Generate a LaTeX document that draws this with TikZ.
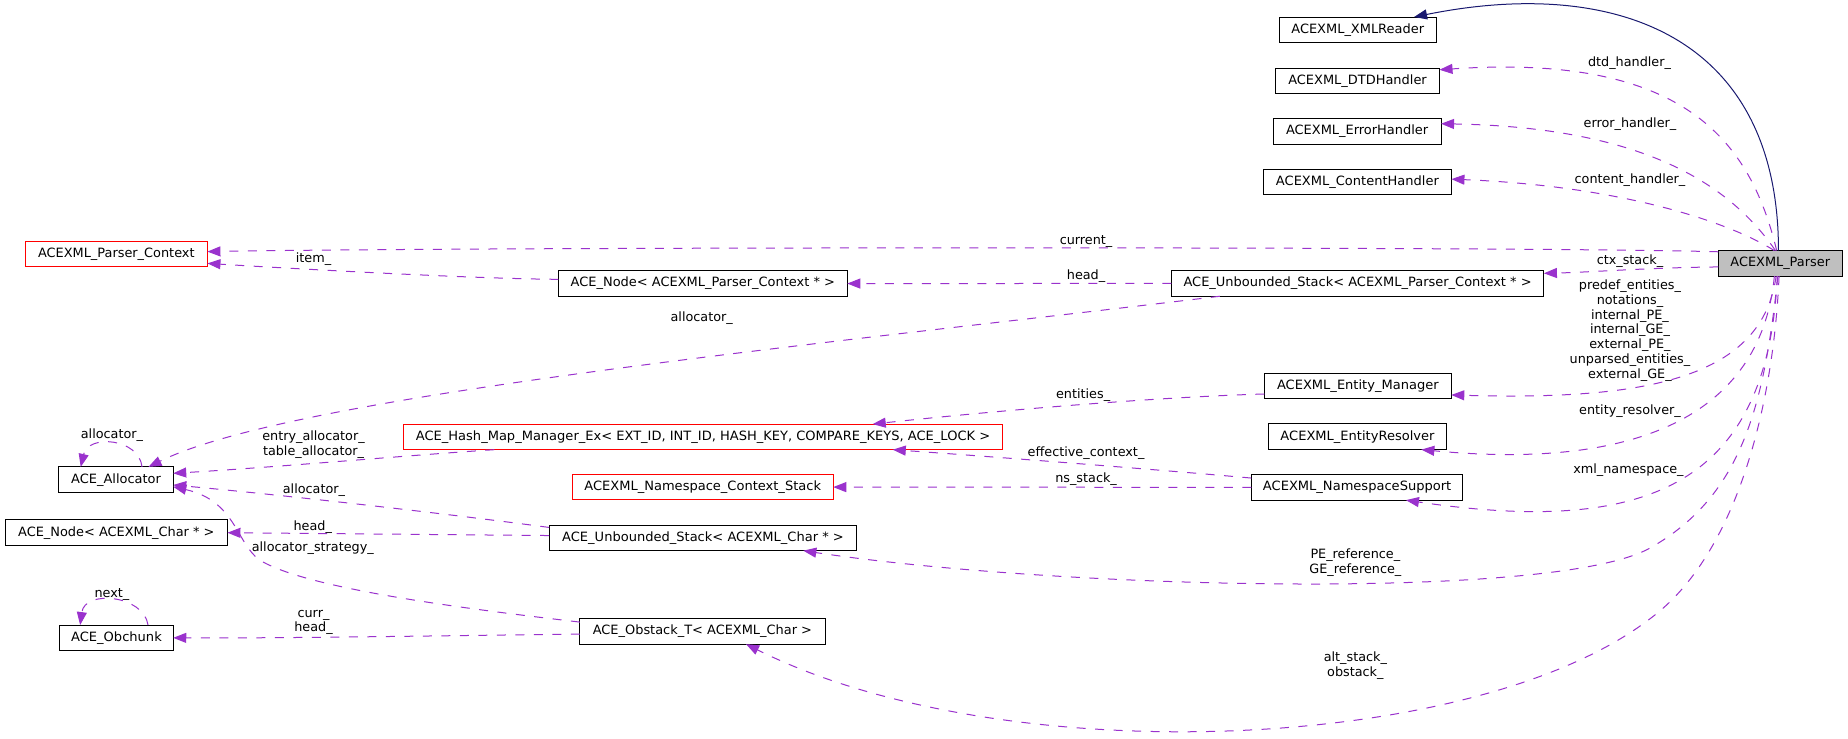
\documentclass[tikz,border=0pt]{standalone}
\usepackage{fontspec}
\setmainfont{DejaVu Sans}
\usetikzlibrary{arrows.meta,calc}
\definecolor{orch}{HTML}{9A32CD}
\definecolor{navyc}{HTML}{191970}
\definecolor{boxgray}{HTML}{BFBFBF}
\newdimen\pu \pu=1.1786pt
\newcommand\fnt{\fontsize{12.8pt}{14.7pt}\selectfont}
\newcommand\bx[7][]{\node[box,#1,minimum width={(#4-#3)*1.1786pt}] (#2) at ({(#3+#4)/2},#5) {\resizebox{#6\pu}{\height}{#7}};}
\begin{document}
\begin{tikzpicture}[x=1.1786pt,y=-1.1786pt,
  box/.style={draw=black,fill=white,line width=1pt,inner sep=0pt,outer sep=0pt,minimum height=25.6pt,font=\fnt},
  redbox/.style={draw=red},
  mainbox/.style={fill=boxgray},
  lbl/.style={font=\fnt,inner sep=0pt,align=center},
  edge/.style={draw=orch,line width=1pt,dash pattern=on 9pt off 9.5pt,-{Triangle[length=13pt,width=10pt,fill=orch]}},
  navyedge/.style={draw=navyc,line width=1pt,-{Triangle[length=13pt,width=10pt,fill=navyc]}}]
\fill[white] (0,0) rectangle (1568,626.2);
\useasboundingbox (0,0) rectangle (1568,626.2);
% nodes
\bx{xmlr}{1085.5}{1218.5}{25.3}{112.6}{ACEXML\_XMLReader}
\bx{dtd}{1082.3}{1221.4}{68.6}{117.5}{ACEXML\_DTDHandler}
\bx{err}{1080.3}{1222.7}{111.4}{120.7}{ACEXML\_ErrorHandler}
\bx{cont}{1072}{1231.5}{154.3}{138.2}{ACEXML\_ContentHandler}
\bx[mainbox]{parser}{1458}{1563}{223.5}{84.5}{ACEXML\_Parser}
\bx[redbox]{pctx}{21.5}{176}{215.5}{132.8}{ACEXML\_Parser\_Context}
\bx{nodepc}{473.8}{718.9}{240.6}{224.3}{ACE\_Node< ACEXML\_Parser\_Context * >}
\bx{ustackpc}{993.8}{1310}{240.5}{295.4}{ACE\_Unbounded\_Stack< ACEXML\_Parser\_Context * >}
\bx{em}{1072.8}{1231.4}{327.6}{137.1}{ACEXML\_Entity\_Manager}
\bx{er}{1076}{1227.6}{370.6}{130.7}{ACEXML\_EntityResolver}
\bx{nss}{1061.8}{1241.2}{413.5}{159.8}{ACEXML\_NamespaceSupport}
\bx[redbox]{hash}{342}{851}{370.7}{487.2}{ACE\_Hash\_Map\_Manager\_Ex< EXT\_ID, INT\_ID, HASH\_KEY, COMPARE\_KEYS, ACE\_LOCK >}
\bx[redbox]{ncs}{485.5}{707}{413.3}{200.8}{ACEXML\_Namespace\_Context\_Stack}
\bx{alloc}{50}{147}{407}{76.2}{ACE\_Allocator}
\bx{nodec}{4.4}{193}{452}{166.6}{ACE\_Node< ACEXML\_Char * >}
\bx{ustackc}{466}{727}{456.4}{239}{ACE\_Unbounded\_Stack< ACEXML\_Char * >}
\bx{obchunk}{50.6}{147}{541.2}{77}{ACE\_Obchunk}
\bx{obstack}{492}{700}{535.7}{186}{ACE\_Obstack\_T< ACEXML\_Char >}
% edges
\draw[navyedge] ($(parser.north)+(-1.5,0)$) .. controls (1509,30) and (1370,-20) .. ($(xmlr.north east)+(-18.7,0)$);
\draw[edge] ($(parser.north)+(-3,0)$) .. controls (1485,120) and (1430,45) .. ($(dtd.east)+(0,-9.4)$);
\draw[edge] ($(parser.north)+(-4,0)$) .. controls (1470,160) and (1400,108) .. ($(err.east)+(0,-6.4)$);
\draw[edge] ($(parser.north)+(-5,0)$) .. controls (1470,190) and (1380,158) .. ($(cont.east)+(0,-2.3)$);
\draw[edge] ($(parser.north west)+(0,1)$) .. controls (1300,209) and (400,209.5) .. ($(pctx.east)+(0,-2)$);
\draw[edge] ($(parser.west)+(0,3)$) .. controls (1400,227) and (1350,231) .. ($(ustackpc.east)+(0,-8.6)$);
\draw[edge] (ustackpc.west) -- (nodepc.east);
\draw[edge] ($(nodepc.west)+(0,-3.6)$) .. controls (400,236.5) and (250,228) .. ($(pctx.east)+(0,8)$);
\draw[edge] ($(ustackpc.south west)+(41.2,0)$) .. controls (700,292) and (250,335) .. ($(alloc.north)+(27.5,0)$);
\draw[edge] ($(alloc.north)+(22,0)$) .. controls (118,372) and (75,368) .. ($(alloc.north)+(-30,0)$);
\draw[edge] ($(hash.south west)+(77.4,0)$) .. controls (350,386) and (240,396) .. ($(alloc.east)+(0,-5.4)$);
\draw[edge] ($(ustackc.north west)+(0,2)$) .. controls (380,436) and (240,420) .. ($(alloc.east)+(0,4.5)$);
\draw[edge] ($(obstack.north west)+(0,3)$) .. controls (400,517) and (260,500) .. (220,475) .. controls (200,460) and (200,425) .. ($(alloc.east)+(0,6)$);
\draw[edge] ($(ustackc.west)+(0,-2)$) -- (nodec.east);
\draw[edge] ($(obchunk.north)+(26.8,0)$) .. controls (122,505) and (72,500) .. ($(obchunk.north)+(-30.8,0)$);
\draw[edge] ($(obstack.west)+(0,2.3)$) .. controls (400,539) and (250,541.6) .. (obchunk.east);
\draw[edge] ($(em.west)+(0,6.7)$) .. controls (980,337) and (850,348) .. ($(hash.north west)+(398.5,0)$);
\draw[edge] ($(nss.north west)+(0,3)$) .. controls (1000,400) and (850,388) .. ($(hash.south west)+(415.5,0)$);
\draw[edge] (nss.west) -- (ncs.east);
\draw[edge] ($(parser.south)+(-3.5,0)$) .. controls (1495,320) and (1400,340) .. ($(em.east)+(0,7.5)$);
\draw[edge] ($(parser.south)+(-5,0)$) .. controls (1495,345) and (1400,400) .. ($(er.south east)+(-21.6,0)$);
\draw[edge] ($(parser.south)+(-2.5,0)$) .. controls (1500,410) and (1400,455) .. ($(nss.south east)+(-48.3,0)$);
\draw[edge] ($(parser.south)+(-2,0)$) .. controls (1497,340) and (1480,420) .. (1400,465) .. controls (1320,510) and (900,500) .. ($(ustackc.south east)+(-45.4,0)$);
\draw[edge] ($(parser.south)+(-1,0)$) .. controls (1505,340) and (1475,470) .. (1400,525) .. controls (1250,640) and (850,655) .. ($(obstack.south east)+(-67,0)$);
% labels
\node[lbl] (ldtd) at (1382.6,53.7) {dtd\_handler\_};
\node[lbl] (lerr) at (1383,105) {error\_handler\_};
\node[lbl] (lcont) at (1383,152.7) {content\_handler\_};
\node[lbl] (lcur) at (921.5,205) {current\_};
\node[lbl] (lctx) at (1383,222) {ctx\_stack\_};
\node[lbl] (lpre) at (1383,280.5) {predef\_entities\_\\notations\_\\internal\_PE\_\\internal\_GE\_\\external\_PE\_\\unparsed\_entities\_\\external\_GE\_};
\node[lbl] (lheadpc) at (921.5,234) {head\_};
\node[lbl] (litem) at (266,220) {item\_};
\node[lbl] (lallocpc) at (595.4,269.6) {allocator\_};
\node[lbl] (lallocself) at (95,369) {allocator\_};
\node[lbl] (lentry) at (266,377.2) {entry\_allocator\_\\table\_allocator\_};
\node[lbl] (lent) at (919,335) {entities\_};
\node[lbl] (leff) at (921.5,384.7) {effective\_context\_};
\node[lbl] (lns) at (921.5,406.7) {ns\_stack\_};
\node[lbl] (lres) at (1383,349.2) {entity\_resolver\_};
\node[lbl] (lxml) at (1381.7,399.3) {xml\_namespace\_};
\node[lbl] (lallocc) at (266.4,415.8) {allocator\_};
\node[lbl] (lheadc) at (265.4,447) {head\_};
\node[lbl] (lstrat) at (265.4,465.3) {allocator\_strategy\_};
\node[lbl] (lpe) at (1150,477.3) {PE\_reference\_\\GE\_reference\_};
\node[lbl] (lnext) at (95,504.3) {next\_};
\node[lbl] (lcurr) at (266,528.2) {curr\_\\head\_};
\node[lbl] (lalt) at (1150,564.5) {alt\_stack\_\\obstack\_};
\end{tikzpicture}
\end{document}
